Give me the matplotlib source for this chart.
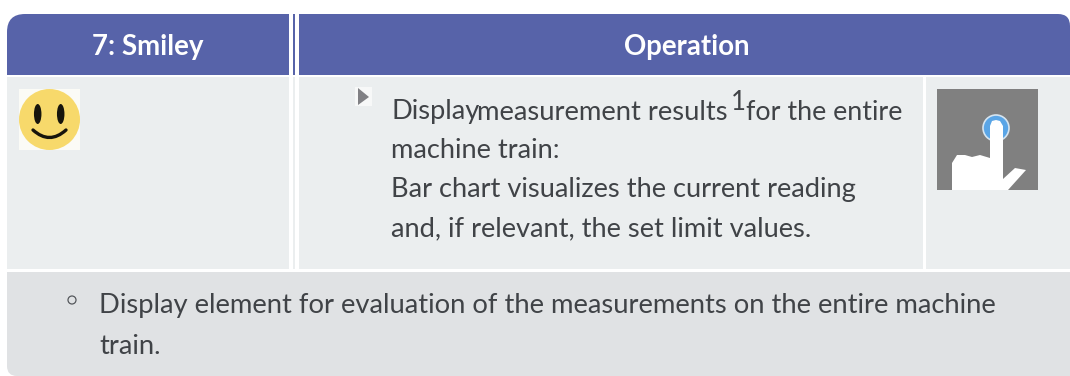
import numpy as np
import matplotlib.pyplot as plt
from matplotlib.patches import Rectangle, Circle, Ellipse, Polygon, PathPatch
from matplotlib.path import Path

plt.rcParams['font.family'] = ['Lato', 'DejaVu Sans']

header_labels = ["7: Smiley", "Operation"]
operation_lines = ["measurement results", "machine train:", "Bar chart visualizes the current reading",
                   "and, if relevant, the set limit values."]
note_lines = ["Display element for evaluation of the measurements on the entire machine", "train."]

blue = "#5763a9"
light = "#ebeeef"
note_bg = "#e0e2e4"
txt = "#404347"

fig = plt.figure(figsize=(10.7, 3.76), dpi=100)
ax = fig.add_axes([0, 0, 1, 1])
ax.set_xlim(0, 1070)
ax.set_ylim(376, 0)
ax.axis("off")

# outline of the whole table: corners differ, bottom right is square
c3 = Path.CURVE3
outer_path = Path([(7, 32), (7, 14), (25, 14), (1058, 14), (1070, 14), (1070, 26), (1070, 376),
                   (17, 376), (7, 376), (7, 366), (7, 32)],
                  [Path.MOVETO, c3, c3, Path.LINETO, c3, c3, Path.LINETO, Path.LINETO, c3, c3, Path.LINETO])
outer = PathPatch(outer_path, fc="white", ec="none", zorder=1)
ax.add_patch(outer)

def box(x0, y0, x1, y1, color, z=2):
    r = Rectangle((x0, y0), x1 - x0, y1 - y0, fc=color, ec="none", zorder=z)
    ax.add_patch(r)
    r.set_clip_path(outer)
    return r

# header
box(7, 14, 289, 75, blue)
box(293, 14, 295, 75, blue)
box(299, 14, 1070, 75, blue)

# body cells
box(7, 77, 289, 269, light)
box(293, 77, 295, 269, light)
box(299, 77, 923, 269, light)
box(926, 77, 1070, 269, light)

# note row
box(7, 272, 1070, 380, note_bg)

ax.text(148, 47.5, header_labels[0], color="white", fontsize=19.9, fontweight="bold",
        ha="center", va="center", zorder=5)
ax.text(687, 47.5, header_labels[1], color="white", fontsize=19.9, fontweight="bold",
        ha="center", va="center", zorder=5)

# smiley
box(19, 89, 80, 150, "#fbfbf6", 3)
ax.add_patch(Circle((49.5, 119.5), 30.5, fc="#f7d96b", ec="none", zorder=4))
ax.add_patch(Ellipse((37.7, 114), 7.5, 20, fc="#17150c", ec="none", zorder=5))
ax.add_patch(Ellipse((60.7, 114), 7.5, 20, fc="#17150c", ec="none", zorder=5))
smile = Path([(33, 130), (49.5, 145), (66, 130)], [Path.MOVETO, c3, c3])
ax.add_patch(PathPatch(smile, fc="none", ec="#17150c", lw=2.4, capstyle="round", zorder=5))

# little arrow bullet
box(355, 87, 372, 106, "#f7f8f8", 3)
ax.add_patch(Polygon([(358, 88), (358, 105), (369, 97)], fc="#808084", ec="none", zorder=4))

# text of the operation cell
fs = 19.65
ax.text(391, 112, "Display", color=txt, fontsize=fs, va="center", zorder=5)
ax.text(477, 112, operation_lines[0], color=txt, fontsize=19.7, va="center", zorder=5)
ax.text(730.5, 103, "1", color=txt, fontsize=18.5, va="center", zorder=5)
ax.text(746.5, 112, "for the entire", color=txt, fontsize=19.4, va="center", zorder=5)
for line, y in zip(operation_lines[1:], [151, 190, 229]):
    ax.text(391, y, line, color=txt, fontsize=fs, va="center", zorder=5)

# touch icon
box(937, 89, 1038, 190, "#808080", 3)
ax.add_patch(Circle((996, 128), 13, fc="#5aa5e6", ec="#d5e4f0", lw=1.2, zorder=4))
hand = Path([(952, 190), (952, 163), (957, 155), (965, 155), (972, 157), (980, 155), (990, 158),
             (990, 126), (992, 121), (996, 120), (1000, 121), (1003, 126), (1003, 179),
             (1015, 168), (1026, 170), (1008, 190), (952, 190)])
ax.add_patch(PathPatch(hand, fc="white", ec="none", zorder=5))

# note row text
ax.add_patch(Circle((72, 300), 4, fc="none", ec="#55585c", lw=0.9, zorder=5))
ax.text(99, 306, note_lines[0], color=txt, fontsize=19.76, va="center", zorder=5)
ax.text(99, 346, note_lines[1], color=txt, fontsize=19.76, va="center", zorder=5)

fig.savefig("out.png", dpi=100, facecolor="white")
